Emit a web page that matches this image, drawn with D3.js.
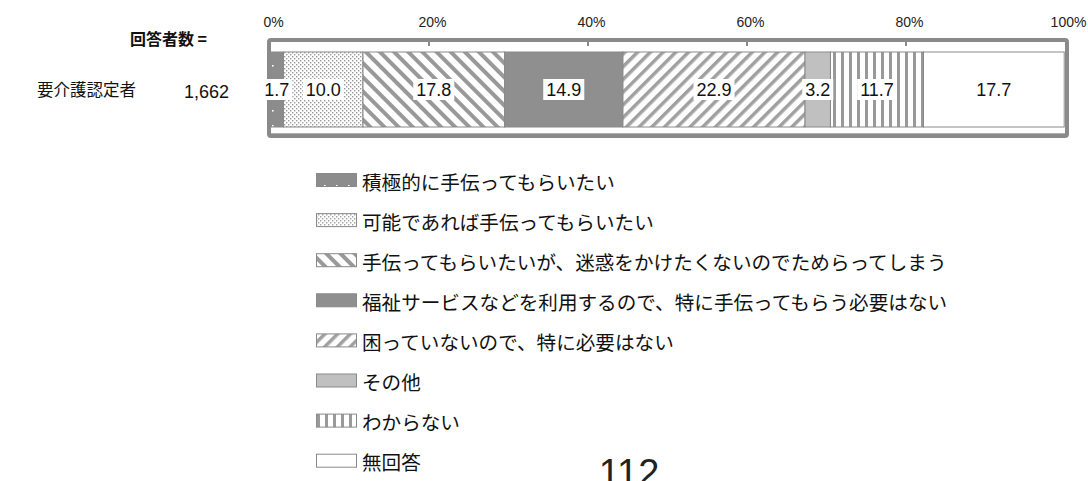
<!DOCTYPE html>
<html><head><meta charset="utf-8">
<script src="https://cdn.jsdelivr.net/npm/d3@7"></script>
<style>
body{margin:0;background:#fff;}
svg{display:block;font-family:"Noto Sans CJK JP","Liberation Sans",sans-serif;}
</style></head>
<body><svg id="c" width="1088" height="481"></svg>
<script>
// ---- data ----
const categories = [
  "積極的に手伝ってもらいたい",
  "可能であれば手伝ってもらいたい",
  "手伝ってもらいたいが、迷惑をかけたくないのでためらってしまう",
  "福祉サービスなどを利用するので、特に手伝ってもらう必要はない",
  "困っていないので、特に必要はない",
  "その他",
  "わからない",
  "無回答"
];
const rows = ["要介護認定者"];
const respondents = ["1,662"];
const values = [1.7, 10.0, 17.8, 14.9, 22.9, 3.2, 11.7, 17.7];
const tickValues = [0, 20, 40, 60, 80, 100];
const tickLabels = ["0%", "20%", "40%", "60%", "80%", "100%"];
const pageNumber = "112";

// ---- styles ----
const fills = ["url(#p1)", "url(#p2)", "url(#p3)", "#8f8f8f", "url(#p5)", "#c0c0c0", "url(#p7)", "#ffffff"];

const svg = d3.select("#c");
const defs = svg.append("defs");
// p1: dark gray with sparse white dots
let p = defs.append("pattern").attr("id","p1").attr("patternUnits","userSpaceOnUse").attr("width",12).attr("height",15);
p.append("rect").attr("width",12).attr("height",15).attr("fill","#8c8c8c");
p.append("rect").attr("x",8).attr("y",5).attr("width",1.6).attr("height",1.6).attr("fill","#fff");
// p2: white with dense gray dots
p = defs.append("pattern").attr("id","p2").attr("patternUnits","userSpaceOnUse").attr("width",4).attr("height",4);
p.append("rect").attr("width",4).attr("height",4).attr("fill","#fff");
p.append("rect").attr("x",0).attr("y",0).attr("width",1.4).attr("height",1.4).attr("fill","#9a9a9a");
p.append("rect").attr("x",2).attr("y",2).attr("width",1.4).attr("height",1.4).attr("fill","#9a9a9a");
// p3: backslash stripes
p = defs.append("pattern").attr("id","p3").attr("patternUnits","userSpaceOnUse").attr("width",10).attr("height",10).attr("patternTransform","rotate(-45)");
p.append("rect").attr("width",10).attr("height",10).attr("fill","#fff");
p.append("rect").attr("width",4).attr("height",10).attr("fill","#999");
// p5: slash stripes
p = defs.append("pattern").attr("id","p5").attr("patternUnits","userSpaceOnUse").attr("width",9).attr("height",9).attr("patternTransform","rotate(45)");
p.append("rect").attr("width",9).attr("height",9).attr("fill","#fff");
p.append("rect").attr("width",3.5).attr("height",9).attr("fill","#a0a0a0");
// p7: vertical stripes
p = defs.append("pattern").attr("id","p7").attr("patternUnits","userSpaceOnUse").attr("width",8).attr("height",8);
p.append("rect").attr("width",8).attr("height",8).attr("fill","#fff");
p.append("rect").attr("x",1).attr("width",3).attr("height",8).attr("fill","#999");

// ---- scales ----
const x = d3.scaleLinear().domain([0,100]).range([270,1065]);
const y = d3.scaleBand().domain(rows).range([52,127]);

// frame
svg.append("rect").attr("x",269).attr("y",40).attr("width",798).attr("height",96)
  .attr("rx",2).attr("fill","#fff").attr("stroke","#8a8a8a").attr("stroke-width",4);
svg.append("line").attr("x1",271).attr("x2",1065).attr("y1",133.5).attr("y2",133.5).attr("stroke","#b0b0b0").attr("stroke-width",1);

// tick marks
svg.selectAll("line.tk").data(tickValues.slice(1,-1)).join("line").attr("class","tk")
  .attr("x1",d=>x(d)).attr("x2",d=>x(d)).attr("y1",42).attr("y2",46)
  .attr("stroke","#8a8a8a").attr("stroke-width",2);

// axis labels
const axis = d3.axisTop(x).tickValues(tickValues).tickFormat((d,i)=>tickLabels[i]).tickSize(0).tickPadding(0);
const ag = svg.append("g").attr("transform","translate(3,27)").call(axis);
ag.select(".domain").remove();
ag.selectAll("text").attr("font-size",14).attr("fill","#222").attr("font-family","'Liberation Sans',sans-serif");

// stacked segments
let cum = 0;
const segs = values.map((v,i)=>{const s={i,v,x0:cum,x1:cum+v}; cum+=v; return s;});
svg.selectAll("rect.seg").data(segs).join("rect").attr("class","seg")
  .attr("x",d=>x(d.x0)).attr("width",d=>x(d.x1)-x(d.x0))
  .attr("y",y(rows[0])).attr("height",y.bandwidth())
  .attr("fill",d=>fills[d.i]).attr("stroke","#8a8a8a").attr("stroke-width",1);

// value labels with white boxes
const lg = svg.append("g");
segs.forEach(d=>{
  const cx = (x(d.x0)+x(d.x1))/2, cy = y(rows[0])+y.bandwidth()/2;
  const g = lg.append("g");
  const t = g.append("text").attr("x",cx).attr("y",cy).attr("text-anchor","middle").attr("dominant-baseline","central")
    .attr("font-size",18).attr("font-family","'Liberation Sans',sans-serif").attr("fill","#111").text(d.v.toFixed(1));
  const bb = t.node().getBBox();
  g.insert("rect","text").attr("x",bb.x-3).attr("y",cy-10.5).attr("width",bb.width+6).attr("height",21).attr("fill","#fff");
});

// left texts
svg.append("text").attr("x",207).attr("y",38).attr("text-anchor","end").attr("dominant-baseline","central")
  .attr("font-size",16).attr("font-weight","bold").attr("fill","#111").text("回答者数 =");
svg.append("text").attr("x",37).attr("y",89).attr("dominant-baseline","central")
  .attr("font-size",16.5).attr("fill","#111").text(rows[0]);
svg.append("text").attr("x",229).attr("y",92).attr("text-anchor","end").attr("dominant-baseline","central")
  .attr("font-size",18).attr("font-family","'Liberation Sans',sans-serif").attr("fill","#111").text(respondents[0]);

// legend
const leg = svg.selectAll("g.leg").data(categories).join("g").attr("class","leg")
  .attr("transform",(d,i)=>`translate(316,${180+i*40.1})`);
leg.append("rect").attr("x",0.5).attr("y",-6.5).attr("width",40).attr("height",13)
  .attr("fill",(d,i)=>fills[i]).attr("stroke","#8a8a8a").attr("stroke-width",1);
leg.append("text").attr("x",46).attr("y",1).attr("dominant-baseline","central")
  .attr("font-size",19.6).attr("fill","#111").text(d=>d);

// page number
svg.append("text").attr("x",629).attr("y",486).attr("text-anchor","middle")
  .attr("font-size",38).attr("font-family","'Liberation Sans',sans-serif").attr("fill","#222").text(pageNumber);
</script></body></html>
